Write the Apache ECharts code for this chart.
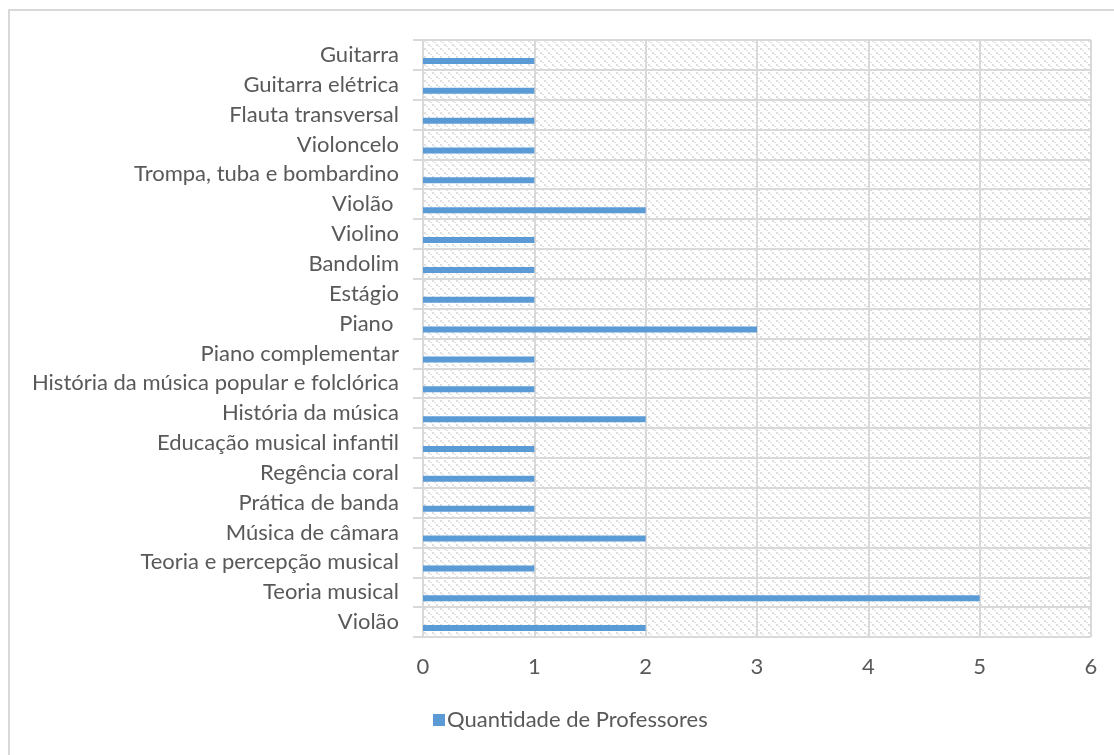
<!DOCTYPE html>
<html>
<head>
<meta charset="utf-8">
<script src="https://cdn.jsdelivr.net/npm/echarts@6/dist/echarts.min.js"></script>
<style>
  html, body { margin: 0; padding: 0; background: #fff; }
  #chart { width: 1114px; height: 755px; }
</style>
</head>
<body>
<div id="chart"></div>
<script>
// categories bottom -> top
const disciplinas = [
  'Violão', 'Teoria musical', 'Teoria e percepção musical', 'Música de câmara',
  'Prática de banda', 'Regência coral', 'Educação musical infantil',
  'História da música', 'História da música popular e folclórica',
  'Piano complementar', 'Piano ', 'Estágio', 'Bandolim', 'Violino', 'Violão ',
  'Trompa, tuba e bombardino', 'Violoncelo', 'Flauta transversal',
  'Guitarra elétrica', 'Guitarra'
];
const professores = [2, 5, 1, 2, 1, 1, 1, 2, 1, 1, 3, 1, 1, 1, 2, 1, 1, 1, 1, 1];
const xTicks = [0, 1, 2, 3, 4, 5, 6];

// hatched plot background
function hatch() {
  const c = document.createElement('canvas');
  c.width = 8; c.height = 8;
  const g = c.getContext('2d');
  g.fillStyle = '#ffffff';
  g.fillRect(0, 0, 8, 8);
  g.fillStyle = '#dedede';
  g.fillRect(0, 0, 2, 2);
  g.fillRect(2, 2, 2, 1);
  g.fillRect(4, 4, 2, 2);
  g.fillRect(6, 6, 2, 1);
  return c;
}

const chart = echarts.init(document.getElementById('chart'));
const font = 'Lato, sans-serif';

chart.setOption({
  animation: false,
  graphic: [{
    type: 'rect',
    shape: { x: 9, y: 10, width: 1120, height: 760 },
    style: { fill: 'none', stroke: '#d9d9d9', lineWidth: 2 },
    silent: true
  }],
  grid: {
    left: 423, right: 23, top: 40, bottom: 118,
    show: true,
    backgroundColor: { image: hatch(), repeat: 'repeat' },
    borderWidth: 0
  },
  legend: {
    data: ['Quantidade de Professores'],
    bottom: 19,
    left: 428,
    icon: 'rect',
    itemWidth: 12,
    itemHeight: 12,
    itemGap: 4,
    textStyle: { fontFamily: font, fontSize: 22, color: '#595959', padding: [0, 0, 0, -3] }
  },
  xAxis: {
    type: 'value',
    min: xTicks[0],
    max: xTicks[xTicks.length - 1],
    interval: 1,
    axisLine: { show: false },
    axisTick: { show: false },
    splitLine: { lineStyle: { color: '#d9d9d9', width: 2 } },
    axisLabel: { fontFamily: font, fontSize: 22, color: '#595959', margin: 19 }
  },
  yAxis: {
    type: 'category',
    data: disciplinas,
    axisLine: { show: true, lineStyle: { color: '#d9d9d9', width: 2 } },
    axisTick: { show: true, length: 10, lineStyle: { color: '#d9d9d9', width: 2 } },
    splitLine: { show: true, lineStyle: { color: '#d9d9d9', width: 2 } },
    axisLabel: { fontFamily: font, fontSize: 22, color: '#595959', margin: 24, padding: [0, 0, 5, 0] }
  },
  series: [{
    name: '',
    type: 'bar',
    data: [],
    barWidth: 6,
    barGap: '100%'
  }, {
    name: 'Quantidade de Professores',
    type: 'bar',
    data: professores,
    barWidth: 6,
    barGap: '100%',
    itemStyle: { color: '#5b9bd5' }
  }]
});
</script>
</body>
</html>
